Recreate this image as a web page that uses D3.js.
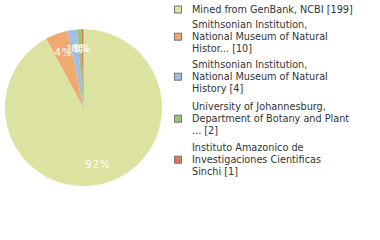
<!DOCTYPE html>
<html>
<head>
<meta charset="utf-8">
<script src="https://cdn.jsdelivr.net/npm/d3@7"></script>
<style>
  body { margin: 0; background: #fff; }
  svg { display: block; }
</style>
</head>
<body>
<div id="chart"></div>
<script>
// Data
var sources = [
    ["Mined from GenBank, NCBI [199]"],
    ["Smithsonian Institution,", "National Museum of Natural", "Histor... [10]"],
    ["Smithsonian Institution,", "National Museum of Natural", "History [4]"],
    ["University of Johannesburg,", "Department of Botany and Plant", "... [2]"],
    ["Instituto Amazonico de", "Investigaciones Cientificas", "Sinchi [1]"]
];
var counts = [199, 10, 4, 2, 1];
var colors = ["#dce29f", "#f0aa70", "#9fbfe3", "#9cc376", "#e0735b"];

var svgWidth = 380;
var svgHeight = 240;

var svg = d3.select("#chart")
    .append("svg")
    .attr("width", svgWidth)
    .attr("height", svgHeight);

// Pie
var cx = 83.5, cy = 107.7, radius = 78.5;
var total = d3.sum(counts);

var pie = d3.pie().sort(null).value(d => d);
var arcs = pie(counts);
var arc = d3.arc().innerRadius(0).outerRadius(radius);
var labelArc = d3.arc().innerRadius(radius * 0.75).outerRadius(radius * 0.75);

var pieGroup = svg.append("g")
    .attr("transform", `translate(${cx}, ${cy})`);

pieGroup.selectAll("path")
    .data(arcs)
    .enter()
    .append("path")
    .attr("d", arc)
    .attr("fill", (d, i) => colors[i]);

// percentage labels are truncated, like the original (4.6% -> 4%)
pieGroup.selectAll("text")
    .data(arcs)
    .enter()
    .append("text")
    .attr("transform", d => `translate(${labelArc.centroid(d)})`)
    .attr("text-anchor", "middle")
    .attr("dy", "0.35em")
    .attr("fill", "#fff")
    .style("font-family", "DejaVu Sans, Verdana, sans-serif")
    .style("font-size", "10px")
    .style("letter-spacing", "1px")
    .text(d => Math.floor(d.value / total * 100) + "%");

// Legend
var lineHeight = 12.2;
var entryTops = [13, 28, 68, 110, 151];

var legend = svg.append("g")
    .style("font-family", "DejaVu Sans, Verdana, sans-serif")
    .style("font-size", "9.7px")
    .attr("fill", "#333");

sources.forEach((lines, i) => {
    var base = entryTops[i];
    var mid = base - 3.5 + (lines.length - 1) * lineHeight / 2;
    legend.append("rect")
        .attr("x", 174.5)
        .attr("y", mid - 3.5)
        .attr("width", 7)
        .attr("height", 7)
        .attr("fill", colors[i])
        .attr("stroke", "#777")
        .attr("stroke-width", 1);
    var t = legend.append("text")
        .attr("x", 192)
        .attr("y", base);
    lines.forEach((line, j) => {
        t.append("tspan")
            .attr("x", 192)
            .attr("y", base + j * lineHeight)
            .text(line);
    });
});
</script>
</body>
</html>
